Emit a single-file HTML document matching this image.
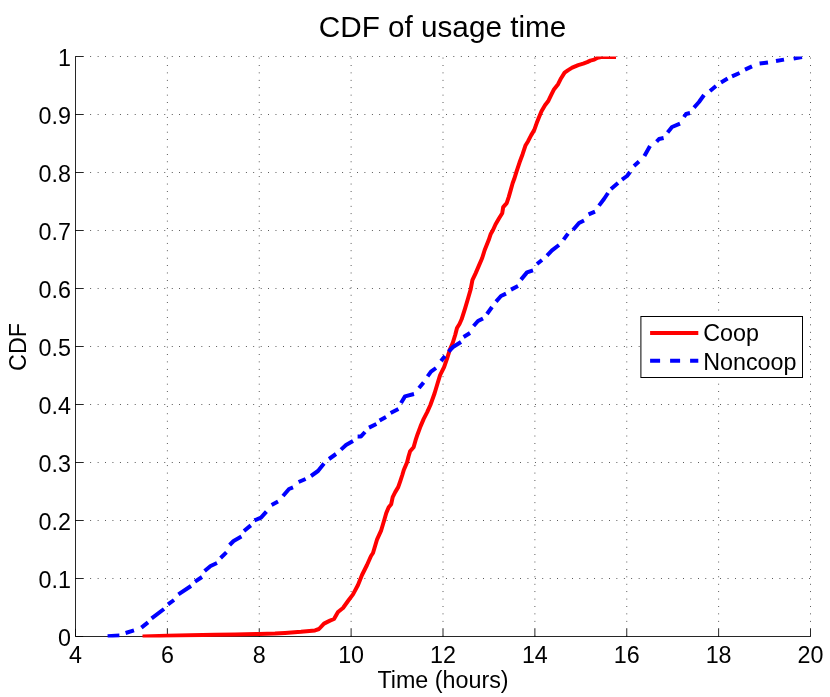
<!DOCTYPE html>
<html lang="en"><head><meta charset="utf-8"><title>CDF of usage time</title>
<style>
html,body{margin:0;padding:0;background:#fff;}
body{width:830px;height:697px;overflow:hidden;}
svg{display:block;}
text{font-family:"Liberation Sans",Arial,Helvetica,sans-serif;fill:#000;}
.tk{font-size:23.3px;}
.ttl{font-size:29.7px;}
.grid{stroke:#000;stroke-width:0.85;stroke-dasharray:0.76 6.651;fill:none;}
.ax{stroke:#000;stroke-width:0.85;fill:none;}
</style></head><body>
<svg width="830" height="697" viewBox="0 0 830 697">
<rect width="830" height="697" fill="#fff"/>
<path class="grid" d="M167.38 636.5V56.5M259.25 636.5V56.5M351.12 636.5V56.5M443.00 636.5V56.5M534.88 636.5V56.5M626.75 636.5V56.5M718.62 636.5V56.5M75.5 578.50H810.5M75.5 520.50H810.5M75.5 462.50H810.5M75.5 404.50H810.5M75.5 346.50H810.5M75.5 288.50H810.5M75.5 230.50H810.5M75.5 172.50H810.5M75.5 114.50H810.5M75.5 56.50H810.5M810.5 636.5V56.5"/>
<path class="ax" d="M75.5 56.5V636.5H810.5M75.50 636.5v-7.7M167.38 636.5v-7.7M259.25 636.5v-7.7M351.12 636.5v-7.7M443.00 636.5v-7.7M534.88 636.5v-7.7M626.75 636.5v-7.7M718.62 636.5v-7.7M810.50 636.5v-7.7M75.5 636.50h7.7M75.5 578.50h7.7M75.5 520.50h7.7M75.5 462.50h7.7M75.5 404.50h7.7M75.5 346.50h7.7M75.5 288.50h7.7M75.5 230.50h7.7M75.5 172.50h7.7M75.5 114.50h7.7M75.5 56.50h7.7"/>
<text class="tk" x="75.50" y="663.3" text-anchor="middle">4</text>
<text class="tk" x="167.38" y="663.3" text-anchor="middle">6</text>
<text class="tk" x="259.25" y="663.3" text-anchor="middle">8</text>
<text class="tk" x="351.12" y="663.3" text-anchor="middle">10</text>
<text class="tk" x="443.00" y="663.3" text-anchor="middle">12</text>
<text class="tk" x="534.88" y="663.3" text-anchor="middle">14</text>
<text class="tk" x="626.75" y="663.3" text-anchor="middle">16</text>
<text class="tk" x="718.62" y="663.3" text-anchor="middle">18</text>
<text class="tk" x="810.50" y="663.3" text-anchor="middle">20</text>
<text class="tk" x="70.9" y="645.80" text-anchor="end">0</text>
<text class="tk" x="70.9" y="587.80" text-anchor="end">0.1</text>
<text class="tk" x="70.9" y="529.80" text-anchor="end">0.2</text>
<text class="tk" x="70.9" y="471.80" text-anchor="end">0.3</text>
<text class="tk" x="70.9" y="413.80" text-anchor="end">0.4</text>
<text class="tk" x="70.9" y="355.80" text-anchor="end">0.5</text>
<text class="tk" x="70.9" y="297.80" text-anchor="end">0.6</text>
<text class="tk" x="70.9" y="239.80" text-anchor="end">0.7</text>
<text class="tk" x="70.9" y="181.80" text-anchor="end">0.8</text>
<text class="tk" x="70.9" y="123.80" text-anchor="end">0.9</text>
<text class="tk" x="70.9" y="65.80" text-anchor="end">1</text>
<text class="ttl" x="442.5" y="37.3" text-anchor="middle">CDF of usage time</text>
<text class="tk" x="443" y="687.5" text-anchor="middle">Time (hours)</text>
<text class="tk" transform="translate(26,347) rotate(-90)" text-anchor="middle">CDF</text>
<clipPath id="axclip"><rect x="74.5" y="56.5" width="737" height="581"/></clipPath>
<g clip-path="url(#axclip)">
<path d="M142.5 636.5L167.4 635.8L190.0 635.3L215.0 634.8L235.0 634.4L259.0 634.0L275.0 633.6L285.0 633.0L301.0 631.8L315.0 630.4L319.0 629.0L324.0 623.6L330.0 620.6L334.0 619.0L338.0 612.0L343.0 608.0L348.0 601.0L353.0 594.4L358.0 585.0L362.0 575.0L367.0 565.0L371.0 556.0L373.0 553.0L377.1 539.3L381.2 530.3L384.2 520.3L386.2 513.2L388.7 507.2L391.2 504.2L392.7 497.1L395.2 492.1L398.2 487.1L400.3 481.1L402.3 475.0L403.8 470.0L407.1 462.3L408.6 456.3L410.1 451.3L413.6 447.2L415.6 440.2L417.6 434.2L420.6 426.1L423.6 419.1L427.2 412.1L430.4 405.0L434.6 393.3L437.6 383.2L440.1 375.2L444.1 367.2L447.2 358.1L449.7 350.1L452.7 343.0L455.2 335.0L457.0 328.0L459.5 324.0L461.6 319.3L465.1 308.3L468.1 298.2L470.7 289.2L472.4 280.2L475.7 273.1L478.7 266.1L482.2 258.0L484.7 250.0L488.6 240.3L490.6 234.3L492.9 230.3L495.6 224.2L499.1 218.2L502.2 213.2L503.2 207.1L506.7 203.1L508.7 197.1L510.7 190.1L512.7 183.0L514.1 179.3L516.6 171.3L519.6 162.3L522.6 154.2L525.6 145.2L528.1 141.2L531.2 135.1L534.2 130.1L536.7 123.1L538.7 118.0L541.5 111.3L545.0 105.3L548.1 101.3L551.1 95.2L554.1 89.2L558.1 84.2L561.1 78.2L564.6 72.6L568.2 70.1L572.2 67.6L578.2 65.1L583.2 63.6L587.2 62.1L590.3 60.6L594.3 59.6L597.5 57.8L601.0 57.1L616.0 57.1" stroke="#f00" stroke-width="4" fill="none" stroke-linejoin="round"/>
<path d="M107.6 636.3L119.4 635.6M125.6 633.0L134.0 630.4M141.4 627.6L148.0 622.4M151.6 618.4L164.0 609.0M168.0 604.4L174.0 600.0M178.4 594.4L191.0 586.0M195.0 581.6L202.0 577.0M204.6 571.0L210.6 566.0L217.0 563.0M220.6 558.0L226.4 552.4M229.6 545.0L233.6 541.0L241.4 536.6M244.0 531.0L250.8 525.4M254.4 520.4L261.0 517.6L266.4 511.6M271.6 505.0L278.0 501.6M283.0 496.0L289.0 489.0L293.0 487.4M298.6 482.0L305.6 479.0M311.0 476.0L318.0 471.0L324.0 463.6M329.0 459.0L336.0 454.0M341.0 449.6L346.0 445.0L353.0 441.0M357.6 436.4L361.0 436.4L365.0 432.0M369.0 427.6L376.4 424.0M379.6 420.6L386.0 417.0M390.6 413.0L398.4 409.0M401.0 403.0L405.0 396.4L414.0 394.0M419.0 388.0L423.6 382.4M427.6 376.4L431.0 371.6L436.0 368.0M441.0 361.0L445.0 356.0M448.6 351.6L453.0 347.0L461.0 342.0M463.6 337.0L470.0 333.0M473.6 326.0L478.0 321.0L483.0 318.4M487.0 314.0L492.0 307.0M496.0 301.6L501.0 296.0L506.0 293.6M511.0 289.6L518.0 286.0M521.0 279.6L527.0 272.4L533.0 270.4M537.0 264.0L542.0 260.0M547.0 255.6L552.0 250.4L559.0 245.0M563.6 239.6L568.0 233.6M573.0 230.0L579.0 223.0L584.0 220.4M588.6 214.4L595.0 211.6M599.0 205.6L604.0 199.0L608.0 193.0M611.0 189.0L618.0 183.0M622.0 179.6L627.0 176.0L630.0 172.0M634.0 166.0L639.0 161.6M644.4 156.0L650.0 146.0M656.6 141.6L659.0 139.0L663.6 138.0M667.6 132.4L672.0 127.0L680.0 123.6M684.0 117.0L686.0 114.0L690.0 113.0M694.0 107.6L699.0 102.0L704.0 95.0M710.0 91.0L716.0 86.0M721.0 82.4L727.6 78.6M732.0 76.4L739.6 73.0M745.0 69.6L752.0 66.4M759.6 63.6L768.0 62.4M776.0 61.0L784.0 59.6M793.6 58.6L802.0 57.0" stroke="#00f" stroke-width="4" fill="none" stroke-linejoin="round"/>
</g>
<rect x="640.9" y="316.5" width="161.6" height="61" fill="#fff" stroke="#000" stroke-width="1"/>
<path d="M650.1 333H698.3" stroke="#f00" stroke-width="4" fill="none"/>
<path d="M650.1 360.8H698.3" stroke="#00f" stroke-width="4" stroke-dasharray="10 10" fill="none"/>
<text class="tk" x="703.2" y="341">Coop</text>
<text class="tk" x="703.2" y="369.7">Noncoop</text>
</svg>
</body></html>
